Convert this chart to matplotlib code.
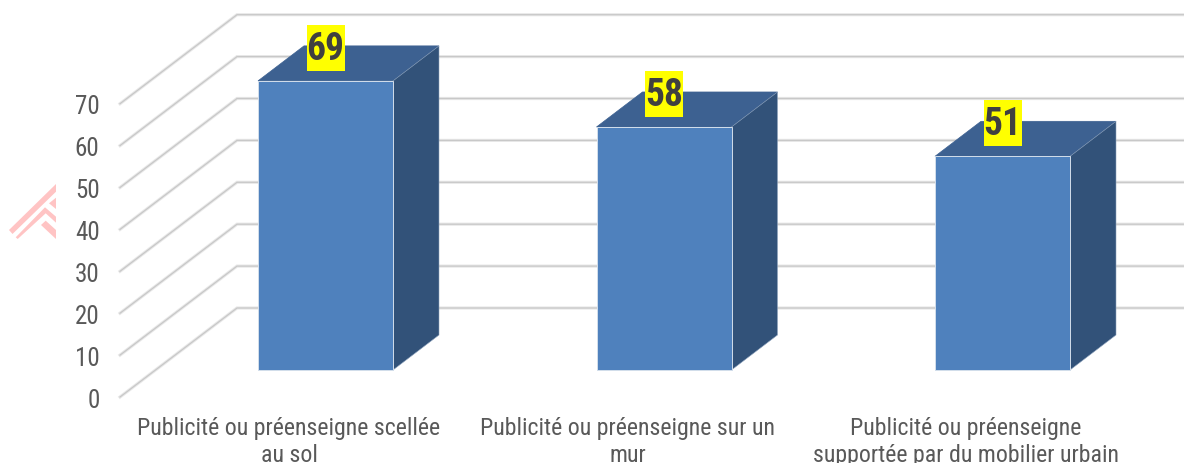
import matplotlib
matplotlib.use("Agg")
import matplotlib.pyplot as plt
from matplotlib.patches import Polygon, Rectangle
from matplotlib.transforms import Affine2D
from matplotlib import font_manager as fm
import logging
logging.getLogger('matplotlib.font_manager').setLevel(logging.ERROR)

categories = ["Publicité ou préenseigne scellée\nau sol",
              "Publicité ou préenseigne sur un\nmur",
              "Publicité ou préenseigne\nsupportée par du mobilier urbain"]
values = [69, 58, 51]
y_ticks = [0, 10, 20, 30, 40, 50, 60, 70]

W, H = 1184, 463
PX_X = 338.5   # pixels per category
PX_Y = 4.19    # pixels per value unit
X0, Y0 = 325.5, 370.0  # pixel of category 0 / value 0 on the bars' front plane

avail = {f.name for f in fm.fontManager.ttflist}
narrow = next((n for n in ["Roboto Condensed", "Liberation Sans Narrow", "Roboto"] if n in avail), "Roboto")

fig = plt.figure(figsize=(W / 100, H / 100), dpi=100, facecolor="white")
ax = fig.add_axes([0, 0, 1, 1])
ax.set_xlim((0 - X0) / PX_X, (W - X0) / PX_X)
ax.set_ylim((Y0 - H) / PX_Y, Y0 / PX_Y)
ax.axis("off")

bar_w = 135 / PX_X
dx, dy = 46 / PX_X, 35 / PX_Y          # bar depth
wall_x0 = (120 - X0) / PX_X            # front-left floor corner
wall_y0 = (Y0 - 397) / PX_Y
wall_dx, wall_dy = 117 / PX_X, 89 / PX_Y

# decorative pink watermark at the left edge (image pixels)
px = Affine2D().scale(1, -1).translate(0, H)
for pts in ([(9, 230), (12.5, 234), (56, 191.7), (56, 184)],
            [(15.7, 237.3), (17.7, 239), (45.7, 213.3), (56, 222.7), (56, 216.7), (45, 207.3)],
            [(49, 203.3), (56, 197.7), (56, 209)],
            [(41, 225), (45.7, 220.7), (56, 230), (56, 239)]):
    ax.add_patch(Polygon(pts, fc="#ffc4c4", ec="none", transform=px, zorder=0.5))

# gridlines: side wall + back wall
for v in y_ticks:
    xs = [wall_x0, wall_x0 + wall_dx, ax.get_xlim()[1]]
    ys = [wall_y0 + v, wall_y0 + v + wall_dy, wall_y0 + v + wall_dy]
    ax.plot(xs, ys, color="#e8e8e8", lw=2.3, zorder=1, solid_joinstyle="miter")
    ax.plot(xs, ys, color="#c8c8c8", lw=0.9, zorder=1.1, solid_joinstyle="miter")
    ax.text(wall_x0 - 20.5 / PX_X, wall_y0 + v - 3.5 / PX_Y, str(v), ha="right", va="center",
            fontsize=18, color="#595959", family=[narrow, "Roboto"])

# bars
for i, (lab, v) in enumerate(zip(categories, values)):
    l, r = i - bar_w / 2, i + bar_w / 2
    ax.add_patch(Polygon([(l, v), (l + dx, v + dy), (r + dx, v + dy), (r, v)],
                         fc="#3d6191", ec="#3d6191", lw=0.5, zorder=3))
    ax.add_patch(Polygon([(r, 0), (r + dx, dy), (r + dx, v + dy), (r, v)],
                         fc="#325279", ec="#8ea3bd", lw=0.4, zorder=3))
    ax.add_patch(Polygon([(l, 0), (r, 0), (r, v), (l, v)],
                         fc="#4f81bd", ec="#d3deeb", lw=0.7, zorder=4))
    box_h = 46 / PX_Y
    box_w = 38 / PX_X
    ax.add_patch(Rectangle((i - box_w / 2, v + 33 / PX_Y - box_h / 2), box_w, box_h,
                           fc="#ffff00", ec="none", zorder=5))
    ax.text(i, v + 31.5 / PX_Y, str(v), ha="center", va="center", fontsize=27,
            fontweight="bold", color="#404040", family=[narrow, "Roboto"], zorder=6)
    ax.text(i - 0.108, (Y0 - 417) / PX_Y, lab, ha="center", va="top",
            fontsize=17.2, color="#595959", family=[narrow, "Roboto"], linespacing=1.2,
            zorder=5)

fig.savefig("out.png", dpi=100, facecolor="white")
